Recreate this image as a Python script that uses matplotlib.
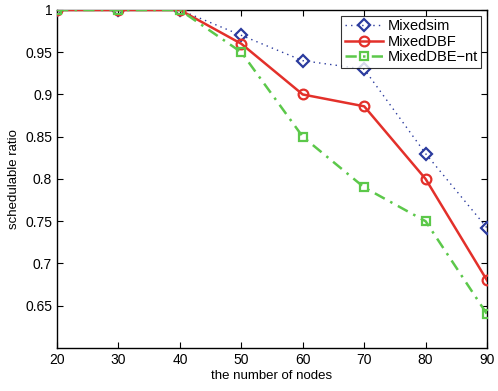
import matplotlib
matplotlib.use("Agg")
import matplotlib.pyplot as plt

plt.rcParams['font.family'] = ['Liberation Sans', 'DejaVu Sans']

nodes = [20, 30, 40, 50, 60, 70, 80, 90]
mixedsim = [1.0, 1.0, 1.0, 0.97, 0.94, 0.93, 0.83, 0.742]
mixeddbf = [1.0, 1.0, 1.0, 0.96, 0.90, 0.886, 0.80, 0.68]
mixeddbe_nt = [1.0, 1.0, 1.0, 0.95, 0.85, 0.79, 0.75, 0.64]
yticks = [0.65, 0.7, 0.75, 0.8, 0.85, 0.9, 0.95, 1.0]
ytick_labels = ['0.65', '0.7', '0.75', '0.8', '0.85', '0.9', '0.95', '1']

fig = plt.figure(figsize=(4.98, 3.91), dpi=100)
ax = fig.add_axes([0.1145, 0.11, 0.8635, 0.8645])

ax.plot(nodes, mixedsim, linestyle=(0, (1, 3)), color='#2b3b9e', linewidth=1.0,
        marker='D', markersize=6.5, markerfacecolor='none', markeredgewidth=1.6,
        label='Mixedsim', zorder=3)
ax.plot(nodes, mixeddbf, linestyle='-', color='#e3302a', linewidth=1.8,
        marker='o', markersize=7, markerfacecolor='none', markeredgewidth=1.6,
        label='MixedDBF', zorder=4)
ax.plot(nodes, mixeddbe_nt, linestyle=(0, (4.5, 2.5, 1, 2.5)), color='#5cc84a', linewidth=1.8,
        marker='s', markersize=6, markerfacecolor='none', markeredgewidth=1.6,
        label='MixedDBE\u2212nt', zorder=5)

ax.set_xlim(20, 90)
ax.set_ylim(0.6, 1.0)
ax.set_xticks(nodes)
ax.set_yticks(yticks)
ax.set_yticklabels(ytick_labels)
ax.tick_params(direction='in', top=True, right=True, labelsize=10, length=4, width=0.8)
for s in ax.spines.values():
    s.set_linewidth(1.0)

ax.set_xlabel('the number of nodes', fontsize=9.5, labelpad=2)
ax.set_ylabel('schedulable ratio', fontsize=9.5, labelpad=4)

leg = ax.legend(loc='upper right', fontsize=10.5, frameon=True, fancybox=False,
                edgecolor='black', borderaxespad=0.4, handlelength=2.6,
                labelspacing=0.1, borderpad=0.25, handletextpad=0.3)
leg.get_frame().set_linewidth(0.8)

fig.savefig('out.png', dpi=100)
